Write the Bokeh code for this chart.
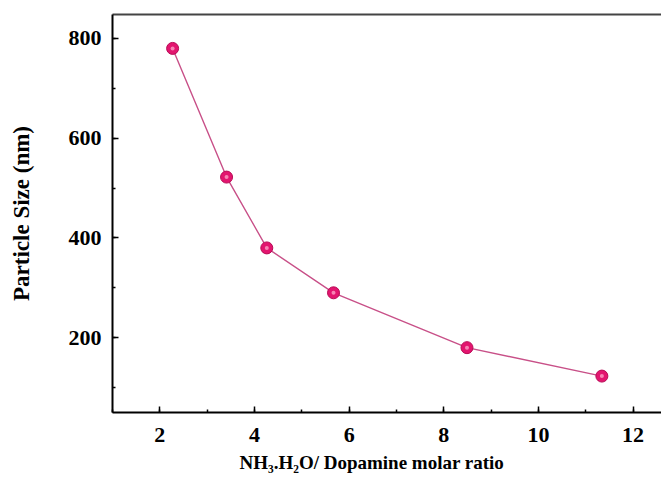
from bokeh.plotting import figure
from bokeh.models import Range1d, SingleIntervalTicker, LinearAxis, Title
from bokeh.embed import file_html
from bokeh.resources import INLINE

# data
ratio = [2.27, 3.41, 4.26, 5.67, 8.49, 11.34]
size_nm = [780, 522, 380, 290, 180, 123]

x_label = "NH\u2083.H\u2082O/ Dopamine molar ratio"
y_label = "Particle Size (nm)"

FONT = "Liberation Serif"

p = figure(width=661, height=478, output_backend="svg", toolbar_location=None,
           x_range=Range1d(1.0, 12.6), y_range=Range1d(50, 848),
           x_axis_type=None, y_axis_type=None)
p.min_border_left = 112
p.min_border_right = 0
p.min_border_top = 14
p.min_border_bottom = 66
p.outline_line_color = None
p.grid.visible = False
p.background_fill_color = "white"
p.border_fill_color = "white"

xaxis = LinearAxis(ticker=SingleIntervalTicker(interval=2, num_minor_ticks=2))
yaxis = LinearAxis(ticker=SingleIntervalTicker(interval=200, num_minor_ticks=2))
for ax in (xaxis, yaxis):
    ax.axis_line_color = "black"
    ax.axis_line_width = 2
    ax.major_tick_in = 6
    ax.major_tick_out = 0
    ax.minor_tick_in = 3
    ax.minor_tick_out = 0
    ax.major_tick_line_width = 1.5
    ax.minor_tick_line_width = 1.5
    ax.major_label_text_font = FONT
    ax.major_label_text_font_style = "bold"
    ax.major_label_text_font_size = "22px"
    ax.major_label_text_color = "black"
    ax.axis_label_text_font = FONT
    ax.axis_label_text_font_style = "bold"
    ax.axis_label_text_color = "black"
xaxis.major_label_standoff = 15
yaxis.major_label_standoff = 11
yaxis.axis_label = y_label
yaxis.axis_label_text_font_size = "23px"
yaxis.axis_label_standoff = 32
p.add_layout(xaxis, "below")
p.add_layout(yaxis, "left")

top = LinearAxis(ticker=SingleIntervalTicker(interval=2), major_tick_in=0, major_tick_out=0,
                 minor_tick_in=0, minor_tick_out=0, major_label_text_font_size="0px",
                 axis_line_color="#444444", axis_line_width=2)
top.major_label_text_alpha = 0
p.add_layout(top, "above")

p.add_layout(Title(text=x_label, align="left", offset=127, standoff=11,
                   text_font=FONT, text_font_style="bold", text_font_size="19px",
                   text_color="black"), "below")

p.line(ratio, size_nm, line_color="#c85088", line_width=1.4)
p.scatter(ratio, size_nm, size=12, fill_color="#e3156f", line_color="#b80a55", line_width=1)
p.scatter(ratio, size_nm, size=4, fill_color="#ffb3d1", line_color=None, fill_alpha=0.7)

open("out.html", "w").write(file_html(p, INLINE))
